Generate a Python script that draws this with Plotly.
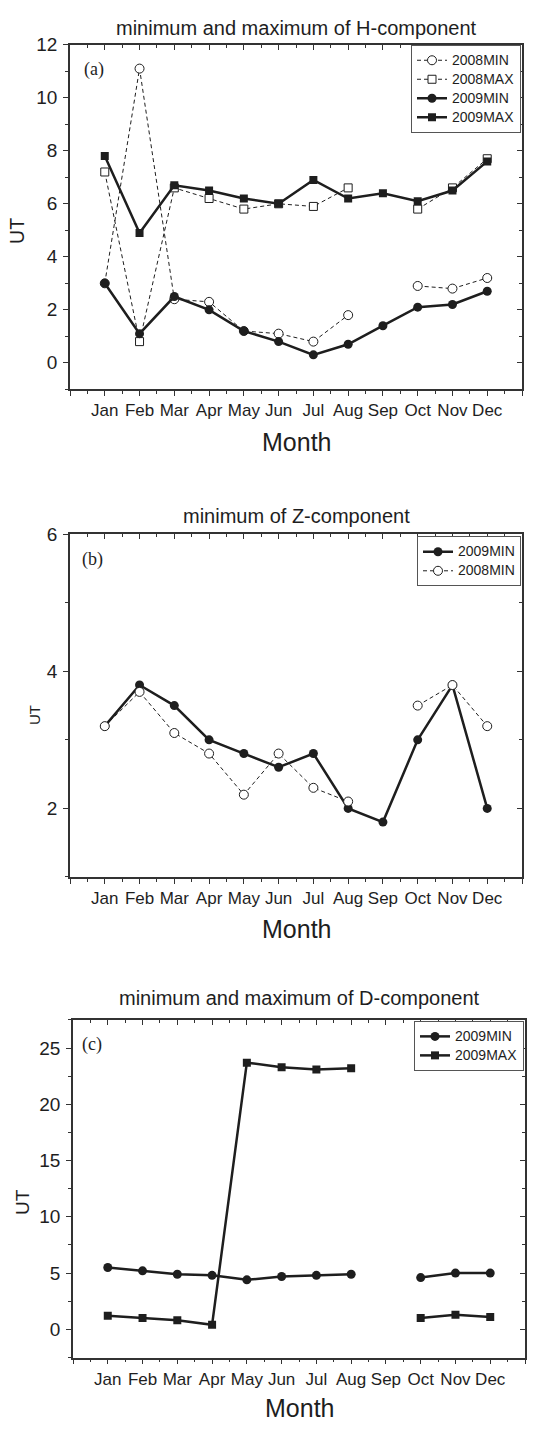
import plotly.graph_objects as go

W, H = 537, 1429

months = ['Jan', 'Feb', 'Mar', 'Apr', 'May', 'Jun', 'Jul', 'Aug', 'Sep', 'Oct', 'Nov', 'Dec']
month_pos = list(range(1, 13))

# Panel (a) H-component
h_2008_min = [3.0, 11.1, 2.4, 2.3, 1.2, 1.1, 0.8, 1.8, None, 2.9, 2.8, 3.2]
h_2008_max = [7.2, 0.8, 6.6, 6.2, 5.8, 6.0, 5.9, 6.6, None, 5.8, 6.6, 7.7]
h_2009_min = [3.0, 1.1, 2.5, 2.0, 1.2, 0.8, 0.3, 0.7, 1.4, 2.1, 2.2, 2.7]
h_2009_max = [7.8, 4.9, 6.7, 6.5, 6.2, 6.0, 6.9, 6.2, 6.4, 6.1, 6.5, 7.6]

# Panel (b) Z-component
z_2009_min = [3.2, 3.8, 3.5, 3.0, 2.8, 2.6, 2.8, 2.0, 1.8, 3.0, 3.8, 2.0]
z_2008_min = [3.2, 3.7, 3.1, 2.8, 2.2, 2.8, 2.3, 2.1, None, 3.5, 3.8, 3.2]

# Panel (c) D-component
d_2009_min = [5.5, 5.2, 4.9, 4.8, 4.4, 4.7, 4.8, 4.9, None, 4.6, 5.0, 5.0]
d_2009_max = [1.2, 1.0, 0.8, 0.4, 23.7, 23.3, 23.1, 23.2, None, 1.0, 1.3, 1.1]

SANS = "Liberation Sans, Arial, sans-serif"
SERIF = "Liberation Serif, Times New Roman, serif"
INK = "#1e1e1e"
AX = "#333333"


def xp(px):
    return px / W


def yp(py):
    return 1 - py / H


fig = go.Figure()

panels = [
    dict(l=70, r=522, t=35, b=382, yr=[-1, 12], dt=2, mdt=1),
    dict(l=70, r=522, t=528, b=873, yr=[1, 6], dt=2, mdt=1),
    dict(l=73, r=525, t=1017, b=1357, yr=[-2.5, 27.5], dt=5, mdt=2.5),
]


def style(kind):
    if kind == 'solid_circle':
        return dict(mode='lines+markers', line=dict(color=INK, width=2.5),
                    marker=dict(symbol='circle', size=9, color=INK, line=dict(width=0)))
    if kind == 'solid_square':
        return dict(mode='lines+markers', line=dict(color=INK, width=2.5),
                    marker=dict(symbol='square', size=8, color=INK, line=dict(width=0)))
    if kind == 'open_circle':
        return dict(mode='lines+markers', line=dict(color=INK, width=1, dash='4px,3px'),
                    marker=dict(symbol='circle', size=9, color='white', line=dict(color=INK, width=1)))
    if kind == 'open_square':
        return dict(mode='lines+markers', line=dict(color=INK, width=1, dash='4px,3px'),
                    marker=dict(symbol='square', size=8, color='white', line=dict(color=INK, width=1)))


series = [
    (0, '2008MIN', h_2008_min, 'open_circle'),
    (0, '2008MAX', h_2008_max, 'open_square'),
    (0, '2009MIN', h_2009_min, 'solid_circle'),
    (0, '2009MAX', h_2009_max, 'solid_square'),
    (1, '2009MIN', z_2009_min, 'solid_circle'),
    (1, '2008MIN', z_2008_min, 'open_circle'),
    (2, '2009MIN', d_2009_min, 'solid_circle'),
    (2, '2009MAX', d_2009_max, 'solid_square'),
]

for pi, name, vals, st in series:
    k = pi + 1
    sfx = '' if k == 1 else str(k)
    fig.add_trace(go.Scatter(x=month_pos, y=vals,
                             name="<span style='font-size:14px'>" + name + "</span>",
                             xaxis='x' + sfx, yaxis='y' + sfx,
                             legend='legend' + sfx, connectgaps=False,
                             **style(st)))

layout = dict(width=W, height=H, margin=dict(l=0, r=0, t=0, b=0),
              plot_bgcolor='white', paper_bgcolor='white',
              font=dict(family=SANS, color=INK))

tick_font_x = dict(family=SANS, size=17, color=INK)
tick_font_y = dict(family=SANS, size=19, color=INK)

annotations = []
titles = ['minimum and maximum of H-component', 'minimum of Z-component',
          'minimum and maximum of D-component']
title_y = [18, 510, 995]
month_y = [435, 925, 1408]
ut = [(17.5, 223, 19.5), (34, 710, 15), (22.5, 1201, 19)]
tags = [('(a)', 94, 60), ('(b)', 92.5, 553), ('(c)', 92, 1042)]
legend_tops = [35, 530, 1018]

for i, p in enumerate(panels):
    k = i + 1
    sfx = '' if k == 1 else str(k)
    xd = [xp(p['l']), xp(p['r'])]
    yd = [yp(p['b']), yp(p['t'])]
    layout['xaxis' + sfx] = dict(
        domain=xd, range=[0, 13], anchor='y' + sfx,
        tickmode='array', tickvals=list(range(0, 14)),
        ticktext=[''] + months + [''],
        ticks='outside', ticklen=5, tickwidth=1.2, tickcolor=AX,
        minor=dict(ticks='outside', ticklen=3, tickwidth=1.2, tickcolor=AX,
                   tickmode='linear', tick0=0, dtick=0.5),
        showline=True, linecolor=AX, linewidth=1.5, showgrid=False, zeroline=False,
        tickfont=tick_font_x, fixedrange=True)
    layout['yaxis' + sfx] = dict(
        domain=yd, range=p['yr'], anchor='x' + sfx,
        tickmode='linear', tick0=0, dtick=p['dt'],
        ticks='outside', ticklen=5, tickwidth=1.2, tickcolor=AX,
        minor=dict(ticks='outside', ticklen=3, tickwidth=1.2, tickcolor=AX,
                   tickmode='linear', tick0=0, dtick=p['mdt']),
        showline=True, linecolor=AX, linewidth=1.5, showgrid=False, zeroline=False,
        tickfont=tick_font_y, ticklabelstandoff=2, fixedrange=True)
    tx = 'xaxis' + str(k + 3)
    ry = 'yaxis' + str(k + 3)
    layout[tx] = dict(
        overlaying='x' + sfx, side='top', anchor='y' + sfx, range=[0, 13],
        tickmode='linear', tick0=0, dtick=1, showticklabels=False,
        ticks='inside', ticklen=5, tickwidth=1.2, tickcolor=AX,
        minor=dict(ticks='inside', ticklen=3, tickwidth=1.2, tickcolor=AX,
                   tickmode='linear', tick0=0, dtick=0.5),
        showline=True, linecolor=AX, linewidth=1.5, showgrid=False, zeroline=False,
        fixedrange=True)
    layout[ry] = dict(
        overlaying='y' + sfx, side='right', anchor='x' + sfx, range=p['yr'],
        tickmode='linear', tick0=0, dtick=p['dt'], showticklabels=False,
        ticks='inside', ticklen=5, tickwidth=1.2, tickcolor=AX,
        minor=dict(ticks='inside', ticklen=3, tickwidth=1.2, tickcolor=AX,
                   tickmode='linear', tick0=0, dtick=p['mdt']),
        showline=True, linecolor=AX, linewidth=1.5, showgrid=False, zeroline=False,
        fixedrange=True)
    fig.add_trace(go.Scatter(x=[None], y=[None], xaxis='x' + str(k + 3), yaxis='y' + sfx,
                             showlegend=False, hoverinfo='skip'))
    fig.add_trace(go.Scatter(x=[None], y=[None], xaxis='x' + sfx, yaxis='y' + str(k + 3),
                             showlegend=False, hoverinfo='skip'))

    layout['legend' + sfx] = dict(
        x=xp(p['r'] - 1), y=yp(legend_tops[i]), xanchor='right', yanchor='top',
        bgcolor='white', bordercolor='#555555', borderwidth=1,
        font=dict(family=SANS, size=12, color=INK),
        tracegroupgap=0, itemwidth=30)

    cx = (xd[0] + xd[1]) / 2
    annotations.append(dict(text=titles[i], x=cx, y=yp(title_y[i]), xref='paper', yref='paper',
                            showarrow=False, xanchor='center', yanchor='middle',
                            font=dict(family=SANS, size=20, color=INK)))
    annotations.append(dict(text='Month', x=cx, y=yp(month_y[i]), xref='paper', yref='paper',
                            showarrow=False, xanchor='center', yanchor='middle',
                            font=dict(family=SANS, size=25, color=INK)))
    ux, uy, us = ut[i]
    annotations.append(dict(text='UT', x=xp(ux), y=yp(uy), xref='paper', yref='paper',
                            showarrow=False, xanchor='center', yanchor='middle', textangle=-90,
                            font=dict(family=SANS, size=us, color=INK)))
    tt, tx_, ty_ = tags[i]
    annotations.append(dict(text=tt, x=xp(tx_), y=yp(ty_), xref='paper', yref='paper',
                            showarrow=False, xanchor='center', yanchor='middle',
                            font=dict(family=SERIF, size=18, color=INK)))

layout['annotations'] = annotations
layout['showlegend'] = True
fig.update_layout(**layout)

fig.write_html("out.html",
               config={'displayModeBar': False},
               post_script="document.body.style.margin='0px';document.body.style.overflow='hidden';")
